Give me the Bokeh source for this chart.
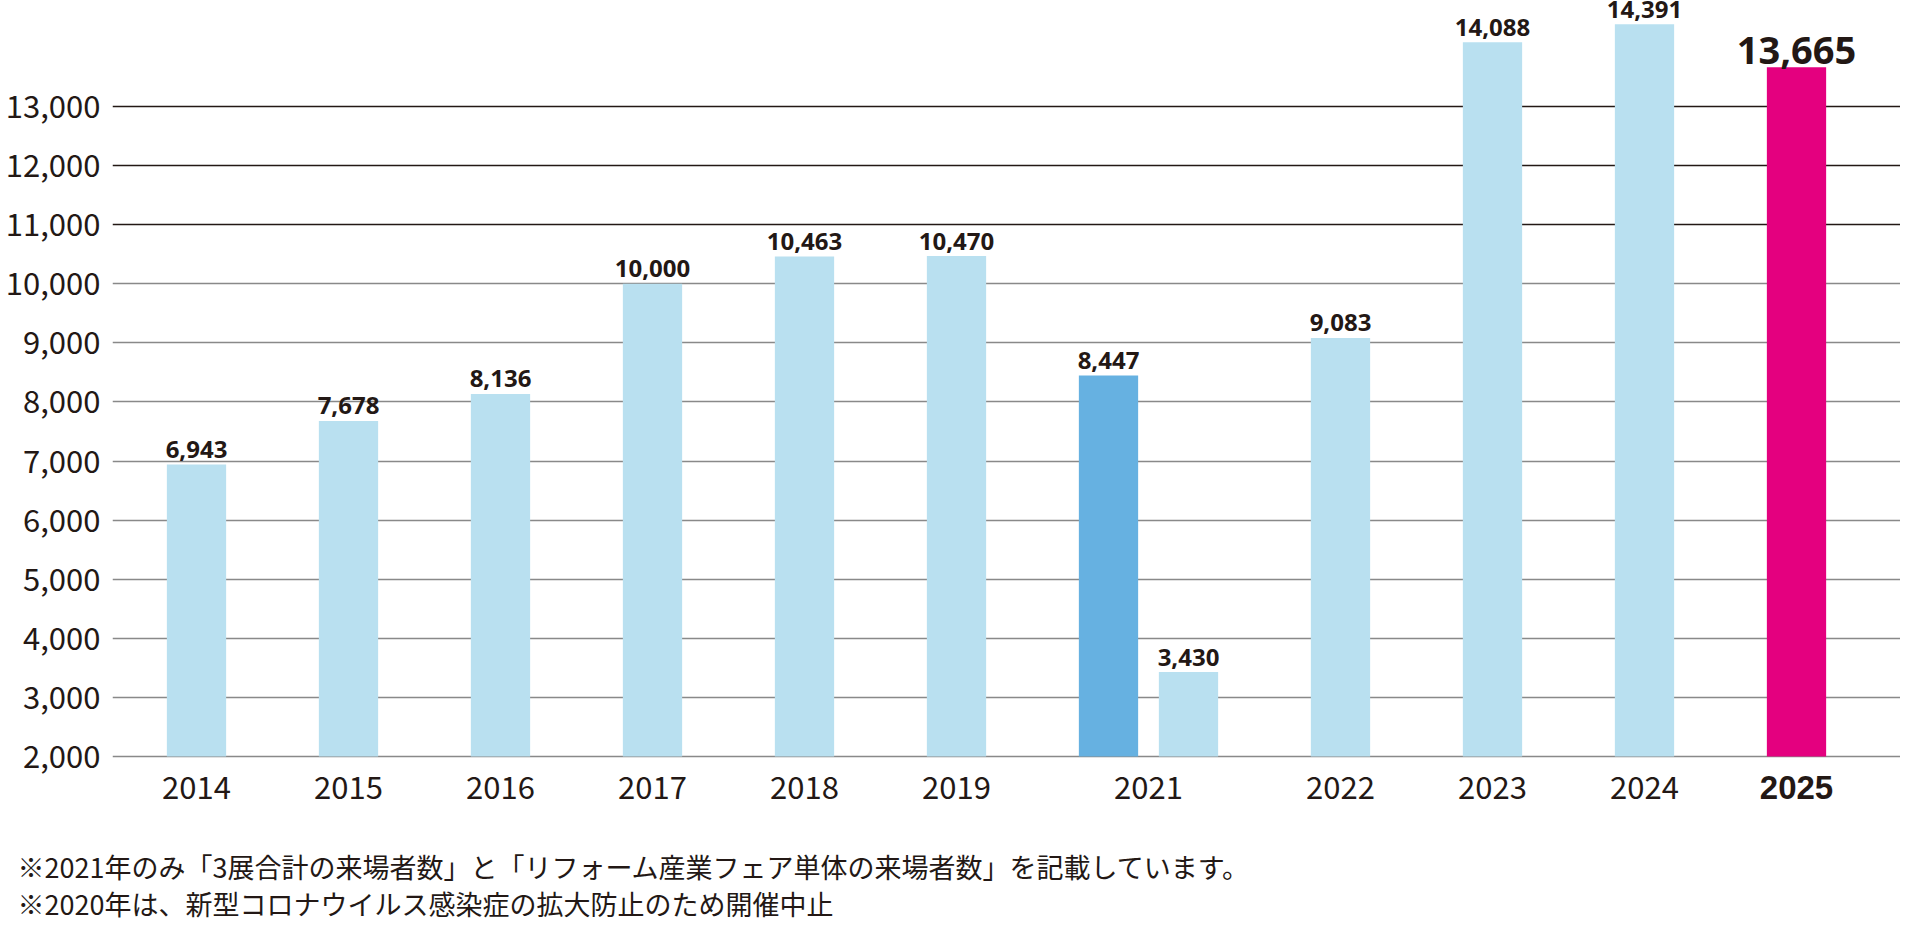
from bokeh.plotting import figure
from bokeh.models import ColumnDataSource, FixedTicker, NumeralTickFormatter, Grid, Range1d, Title
from bokeh.core.properties import value
from bokeh.embed import file_html
from bokeh.resources import INLINE

# ---------------- data ----------------
years = ["2014", "2015", "2016", "2017", "2018", "2019", "2021", "2021", "2022", "2023", "2024", "2025"]
visitors = [6943, 7678, 8136, 10000, 10463, 10470, 8447, 3430, 9083, 14088, 14391, 13665]
kinds = ["normal"] * 6 + ["total", "fair"] + ["normal"] * 3 + ["latest"]
y_ticks = [2000, 3000, 4000, 5000, 6000, 7000, 8000, 9000, 10000, 11000, 12000, 13000]
notes = [
    "※2021年のみ「3展合計の来場者数」と「リフォーム産業フェア単体の来場者数」を記載しています。",
    "※2020年は、新型コロナウイルス感染症の拡大防止のため開催中止",
]

# ---------------- style ----------------
W, H = 1900, 925
FRAME_BOTTOM = 845
INK = "#231815"
COLORS = {"normal": "#b9e0f0", "total": "#66b1e1", "fair": "#b9e0f0", "latest": "#e4007f"}
JP = "Noto Sans CJK JP"
UNIT_PX = 152.0
PAIR_GAP = 80.0 / 152.0
FIRST_PX = 196.0
FRAME_LEFT = 112
TOP_PX, BASE_PX = 106.0, 756.0          # pixel rows of 13,000 and 2,000
PPU = (BASE_PX - TOP_PX) / 11000.0      # px per visitor

# bar positions (pairs of the same year sit closer together)
xs = []
for i, k in enumerate(kinds):
    if i == 0:
        xs.append(0.0)
    elif k == "fair":
        xs.append(xs[-1] + PAIR_GAP)
    else:
        xs.append(xs[-1] + 1.0)

x_start = (FRAME_LEFT - FIRST_PX) / UNIT_PX
x_end = (W - FIRST_PX) / UNIT_PX
y_end = 13000 + TOP_PX / PPU
y_start = 2000 - (FRAME_BOTTOM - BASE_PX) / PPU

p = figure(width=W, height=H, output_backend="svg", toolbar_location=None,
           x_range=Range1d(x_start, x_end), y_range=Range1d(y_start, y_end),
           x_axis_location=None, min_border_left=FRAME_LEFT, min_border_right=0,
           min_border_top=0, min_border_bottom=H - FRAME_BOTTOM)
p.outline_line_color = None
p.background_fill_color = "white"
p.border_fill_color = "white"

# y axis
ya = p.yaxis[0]
ya.ticker = FixedTicker(ticks=y_ticks)
ya.formatter = NumeralTickFormatter(format="0,0")
ya.axis_line_color = None
ya.major_tick_line_color = None
ya.minor_tick_line_color = None
ya.major_tick_out = 0
ya.major_tick_in = 0
ya.major_label_standoff = 12
ya.major_label_text_font = JP
ya.major_label_text_font_size = "31px"
ya.major_label_text_color = INK

# grids
p.xgrid.visible = False
p.ygrid.ticker = FixedTicker(ticks=[t for t in y_ticks if t <= 10000])
p.ygrid.grid_line_color = "#898989"
p.ygrid.grid_line_width = 1.5
p.add_layout(Grid(dimension=1, ticker=FixedTicker(ticks=[t for t in y_ticks if t > 10000]),
                  grid_line_color=INK, grid_line_width=1.5))

# bars
src = ColumnDataSource(dict(x=xs, top=visitors, color=[COLORS[k] for k in kinds]))
p.vbar(x="x", top="top", bottom=2000, width=0.39, fill_color="color", line_color=None, source=src)

# value labels
norm = [i for i, k in enumerate(kinds) if k != "latest"]
hi = [i for i, k in enumerate(kinds) if k == "latest"]
p.text(x=[xs[i] for i in norm], y=[visitors[i] + 15 / PPU for i in norm],
       text=[f"{visitors[i]:,}" for i in norm], text_align="center", text_baseline="alphabetic",
       text_font=value("Open Sans"), text_font_style="bold", text_font_size="24px", text_color=INK)
p.text(x=[xs[i] for i in hi], y=[visitors[i] + 17 / PPU for i in hi],
       text=[f"{visitors[i]:,}" for i in hi], text_align="center", text_baseline="alphabetic",
       text_font=value("Open Sans"), text_font_style="bold", text_font_size="38px", text_color=INK)

# year labels (one per year, centred under its bars)
uniq = []
for y in years:
    if y not in uniq:
        uniq.append(y)
ux = [sum(xs[i] for i, y in enumerate(years) if y == u) / years.count(u) for u in uniq]
base_y = 2000 - 31 / PPU
p.text(x=ux[:-1], y=[base_y] * (len(uniq) - 1), text=uniq[:-1], text_align="center",
       text_baseline="alphabetic", text_font=value(JP), text_font_size="31px", text_color=INK)
p.text(x=ux[-1:], y=[base_y], text=uniq[-1:], text_align="center",
       text_baseline="alphabetic", text_font=value("Liberation Sans"), text_font_style="bold",
       text_font_size="33px", text_color=INK)

# footnotes
p.add_layout(Title(text="\n".join(notes), align="left", offset=17 - FRAME_LEFT, standoff=0,
                   text_font=JP, text_font_size="27px", text_font_style="normal",
                   text_color=INK, text_line_height=0.95), "below")

open("out.html", "w").write(file_html(p, INLINE))
